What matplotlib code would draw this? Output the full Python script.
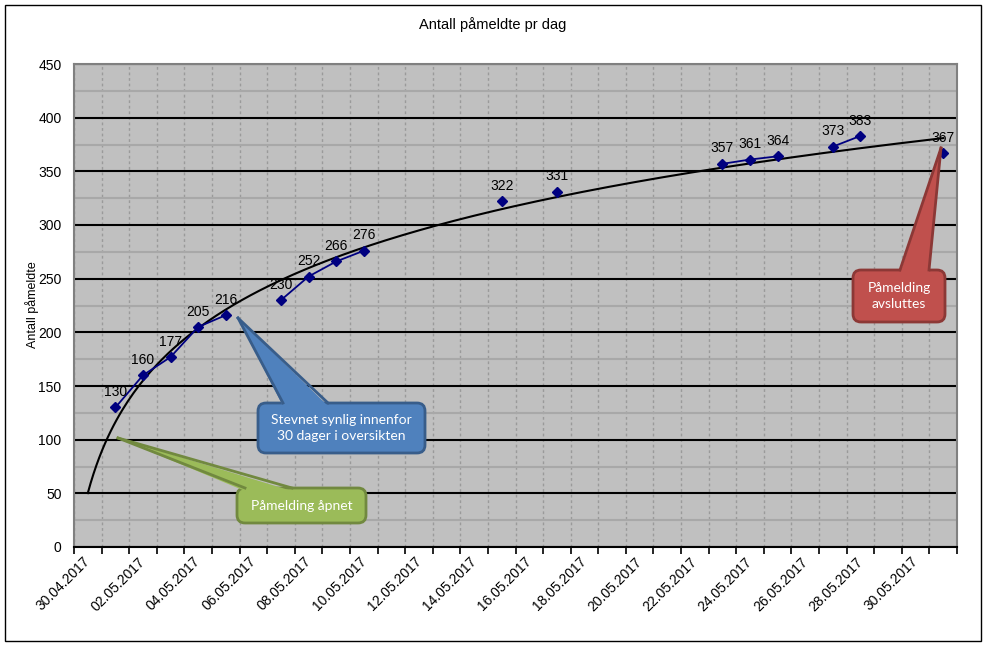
import numpy as np
import pandas as pd
import matplotlib
matplotlib.use("Agg")
import matplotlib.pyplot as plt
import matplotlib.dates as mdates
from matplotlib.patches import FancyBboxPatch, Polygon, Rectangle
from matplotlib.lines import Line2D
from matplotlib.transforms import Affine2D
from matplotlib.ticker import MultipleLocator, NullFormatter

# values
dates = ["01.05.2017", "02.05.2017", "03.05.2017", "04.05.2017", "05.05.2017",
         "07.05.2017", "08.05.2017", "09.05.2017", "10.05.2017",
         "15.05.2017", "17.05.2017",
         "23.05.2017", "24.05.2017", "25.05.2017",
         "27.05.2017", "28.05.2017", "31.05.2017"]
registered = [130, 160, 177, 205, 216,
              230, 252, 266, 276,
              322, 331,
              357, 361, 364,
              373, 383, 367]
axis_start = "30.04.2017"
axis_end = "31.05.2017"

plt.rcParams["font.family"] = ["Liberation Sans", "DejaVu Sans"]

W, H = 987, 646
fig = plt.figure(figsize=(W / 100, H / 100), dpi=100)
# pixel coords (origin top-left) for layout helpers
px = Affine2D().scale(1 / 100, -1 / 100).translate(0, H / 100) + fig.dpi_scale_trans

ax = fig.add_axes([74 / W, 1 - 547 / H, 883 / W, 483 / H])
ax.set_facecolor("#c0c0c0")

days = pd.date_range(pd.to_datetime(axis_start, dayfirst=True),
                     pd.to_datetime(axis_end, dayfirst=True), freq="D")
s = pd.Series(registered, index=pd.to_datetime(dates, dayfirst=True)).reindex(days)
x0 = mdates.date2num(days[0])
x = mdates.date2num(days) + 0.5  # points sit in the middle of each day

# logarithmic trendline (like Excel, x = 1..n over the days)
idx = np.arange(1, len(days) + 1)
mask = s.notna().values
a, b = np.polyfit(np.log(idx[mask]), s.values[mask], 1)
xt = np.linspace(1, len(days), 300)
ax.plot(x0 + xt - 0.5, a * np.log(xt) + b, color="black", lw=1.5, zorder=3)

ax.plot(x, s.values, color="#000080", lw=1.3, marker="D", ms=5, zorder=4)
for xi, yi in zip(x[mask], s.values[mask]):
    ax.annotate(f"{int(yi)}", (xi, yi), xytext=(0, 6), textcoords="offset points",
                ha="center", va="bottom", fontsize=10, zorder=5)

ax.set_xlim(x0, x0 + len(days))
ax.set_ylim(0, 450)

ax.xaxis.set_major_locator(mdates.DayLocator())
ax.xaxis.set_major_formatter(NullFormatter())
ax.set_xticks(x[::2], minor=True)
ax.set_xticklabels([d.strftime("%d.%m.%Y") for d in days[::2]], minor=True,
                   rotation=45, ha="right", rotation_mode="anchor", va="center")
ax.tick_params(axis="x", which="major", length=5, width=1.2, color="black")
ax.tick_params(axis="x", which="minor", length=0, pad=9, labelsize=10)

ax.set_yticks(range(0, 451, 50))
ax.yaxis.set_minor_locator(MultipleLocator(25))
ax.tick_params(axis="y", which="both", length=0, pad=9, labelsize=10)

ax.set_axisbelow(True)
ax.grid(which="minor", axis="y", color="#a8a8a8", lw=1.5)
ax.grid(which="major", axis="y", color="black", lw=1.5)
ax.grid(which="major", axis="x", color="#9a9a9a", lw=1, ls=(0, (2, 2)))

for side in ["top", "right", "left"]:
    ax.spines[side].set_color("#808080")
    ax.spines[side].set_linewidth(1.5)
ax.spines["bottom"].set_color("black")
ax.spines["bottom"].set_linewidth(1.5)

fig.text(493, 25, "Antall påmeldte pr dag", transform=px, ha="center", va="center", fontsize=10.5)
fig.text(32, 305, "Antall påmeldte", transform=px, rotation=90, ha="center", va="center", fontsize=9)

# chart border
fig.add_artist(Rectangle((5, 5), 976, 636, transform=px, fill=False, ec="black", lw=1))


def callout(text, box, tip, base, face, edge):
    bx0, by0, bx1, by1 = box
    fig.add_artist(FancyBboxPatch((bx0, by0), bx1 - bx0, by1 - by0,
                                  boxstyle="round,pad=0,rounding_size=8",
                                  transform=px, fc=face, ec=edge, lw=2, zorder=6))
    (ux, uy), (vx, vy) = base
    fig.add_artist(Polygon([tip, (ux, uy + 3), (vx, vy + 3)], closed=True, transform=px,
                           fc=face, ec="none", zorder=7))
    for bxp, byp in base:
        fig.add_artist(Line2D([tip[0], bxp], [tip[1], byp], transform=px,
                              color=edge, lw=2, zorder=7))
    fig.text((bx0 + bx1) / 2, (by0 + by1) / 2, text, transform=px, ha="center", va="center",
             color="white", fontsize=10, family=["Lato", "DejaVu Sans"], linespacing=1.3, zorder=8)


callout("Påmelding åpnet", (237, 488, 366, 523), (118, 438), [(245, 488), (292, 488)],
        "#9bbb59", "#71893f")
callout("Stevnet synlig innenfor\n30 dager i oversikten", (258, 403, 425, 453), (238, 318),
        [(283, 403), (328, 403)], "#4f81bd", "#385d8a")
callout("Påmelding\navsluttes", (853, 270, 945, 322), (941, 148), [(900, 270), (929, 270)],
        "#c0504d", "#8c3836")

fig.savefig("out.png", dpi=100)
